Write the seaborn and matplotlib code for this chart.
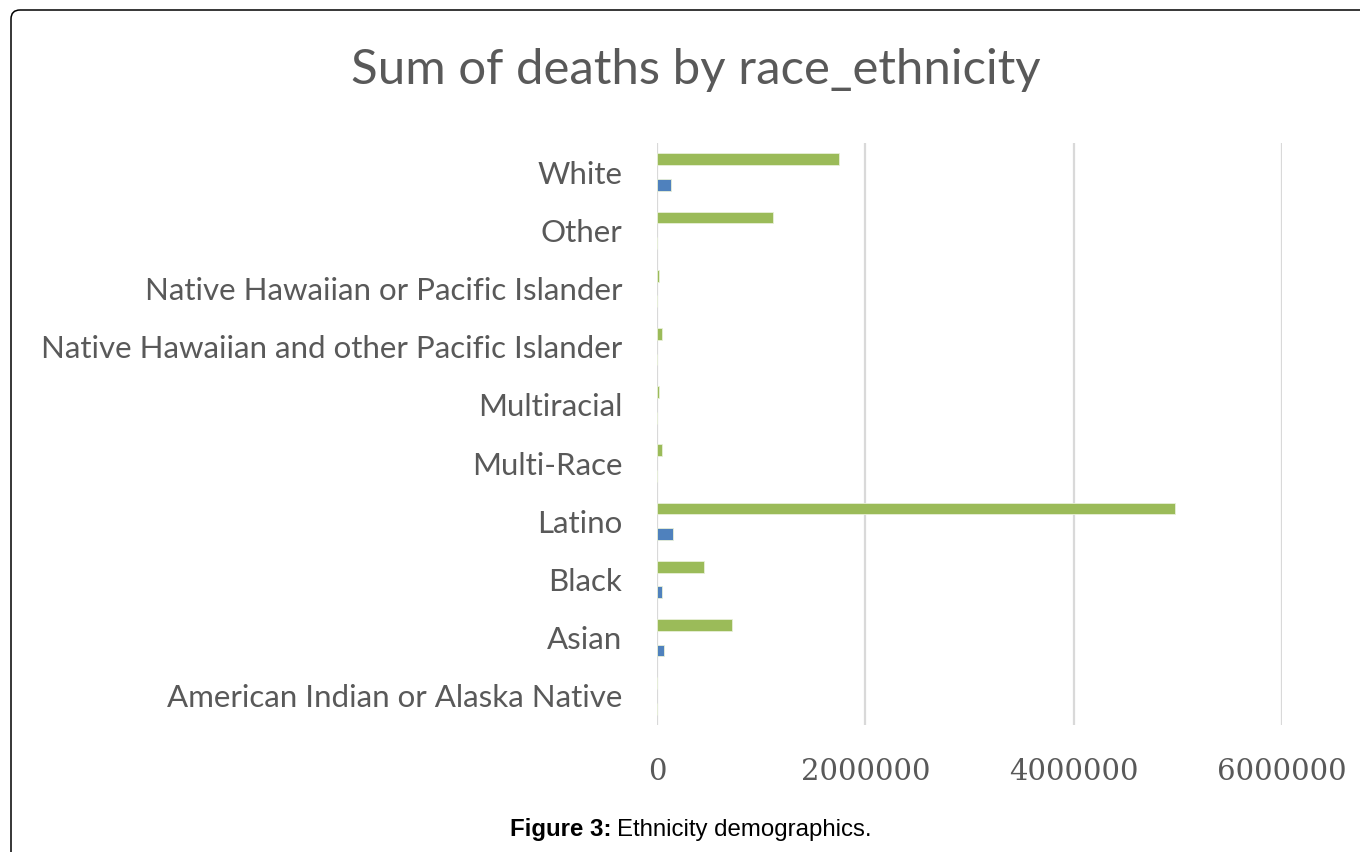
import matplotlib
matplotlib.use("Agg")
import matplotlib.pyplot as plt
from matplotlib.patches import FancyBboxPatch
from matplotlib.transforms import IdentityTransform
from matplotlib.ticker import StrMethodFormatter
import pandas as pd
import seaborn as sns

# --- Data (top to bottom as shown) ---
categories = [
    "White",
    "Other",
    "Native Hawaiian or Pacific Islander",
    "Native Hawaiian and other Pacific Islander",
    "Multiracial",
    "Multi-Race",
    "Latino",
    "Black",
    "Asian",
    "American Indian or Alaska Native",
]
cases = [1745000, 1110000, 20000, 45000, 20000, 45000, 4970000, 450000, 720000, 0]
deaths = [132000, 0, 0, 0, 0, 0, 150000, 50000, 64000, 0]
series_names = ["cases", "deaths"]
series_colors = ["#9BBB59", "#4F81BD"]
x_ticks = [0, 2000000, 4000000, 6000000]

df = pd.DataFrame({
    "race_ethnicity": categories * 2,
    "value": cases + deaths,
    "series": [series_names[0]] * len(categories) + [series_names[1]] * len(categories),
})

sns.set_style("white")
GRAY = "#595959"

fig = plt.figure(figsize=(13.6, 8.52), dpi=100)
ax = fig.add_axes([657 / 1360, 1 - 725 / 852, 625 / 1360, 582 / 852])

sns.barplot(data=df, x="value", y="race_ethnicity", hue="series",
            order=categories, hue_order=series_names,
            palette=series_colors, saturation=1, orient="h", width=0.876, gap=0.54,
            edgecolor="#E8F0D8", linewidth=0.6, legend=False, ax=ax)

ax.set_xlim(0, 6000000)
ax.set_xticks(x_ticks)
ax.xaxis.set_major_formatter(StrMethodFormatter("{x:.0f}"))
ax.grid(axis="x", color="#D9D9D9", linewidth=1.6)
ax.set_axisbelow(True)
for s in ax.spines.values():
    s.set_visible(False)
ax.tick_params(axis="both", length=0)
ax.tick_params(axis="y", pad=25)
ax.tick_params(axis="x", pad=24)
for lab in ax.get_yticklabels():
    lab.set_family("Lato")
    lab.set_fontsize(22.5)
    lab.set_color(GRAY)
for lab in ax.get_xticklabels():
    lab.set_family("DejaVu Serif")
    lab.set_fontsize(21)
    lab.set_color(GRAY)
ax.set_xlabel("")
ax.set_ylabel("")

# Title
fig.text(696 / 1360, 1 - 84 / 852, "Sum of deaths by race_ethnicity",
         ha="center", va="baseline", family="Lato", fontsize=35.4, color=GRAY)

# Caption
fig.text(612 / 1360, 1 - 836 / 852, "Figure 3:", ha="right", va="baseline",
         family="Liberation Sans", weight="bold", fontsize=17.3, color="black")
fig.text(617 / 1360, 1 - 836 / 852, "Ethnicity demographics.", ha="left", va="baseline",
         family="Liberation Sans", fontsize=17.3, color="black")

# Rounded frame, running off the right and bottom edges
frame = FancyBboxPatch((11, -60), 1460, 852 - 10 + 60,
                       boxstyle="round,pad=0,rounding_size=9",
                       transform=IdentityTransform(), fill=False,
                       edgecolor="black", linewidth=1.1)
fig.add_artist(frame)

fig.savefig("out.png", dpi=100)
